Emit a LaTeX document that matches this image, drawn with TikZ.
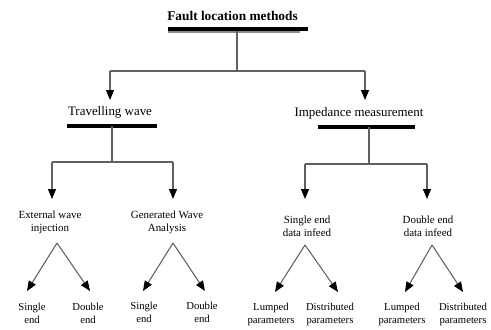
\documentclass[tikz,border=0pt]{standalone}
\usepackage{fontspec}
\setmainfont{Liberation Serif}
\usetikzlibrary{arrows.meta,calc}
\begin{document}
\begin{tikzpicture}[x=0.75pt,y=-0.75pt,
  conn/.style={draw=black!62, line width=0.8pt},
  arr/.style={conn, -{Triangle[length=7.5pt,width=6pt,color=black]}},
  uline/.style={line width=2.5pt, draw=black},
  uline2/.style={line width=1.3pt, draw=black!45},
  lone/.style={font=\fontsize{10}{12}\selectfont\bfseries, inner sep=0pt},
  ltwo/.style={font=\fontsize{9.7}{12}\selectfont, inner sep=0pt},
  lthree/.style={font=\fontsize{8.2}{9.75}\selectfont, align=center, inner sep=0pt},
  leaf/.style={font=\fontsize{8}{9.75}\selectfont, align=center, inner sep=0pt}]
\useasboundingbox (0,0) rectangle (491,329);

% level 1
\node[lone] (title) at (232.5,16) {Fault location methods};
\draw[uline] (168,29) -- (308,29);
\draw[uline2] (168,32) -- (300,32);
\coordinate (tu) at (237,31);
\coordinate (j0) at (237,71);
\coordinate (j0l) at (110,71);
\coordinate (j0r) at (365,71);

% level 2
\node[ltwo] (tw) at (110,112) {Travelling wave};
\node[ltwo] (im) at (359,113) {Impedance measurement};
\draw[uline] (67,126) -- (157,126);
\draw[uline] (318,127) -- (415,127);

\draw[conn] (tu) -- (j0);
\draw[conn] (j0l) -- (j0r);
\draw[arr] (j0l) -- (110,100) coordinate (twin);
\draw[arr] (j0r) -- (365,100) coordinate (imin);

% level 3
\node[lthree] (ew) at (50,222) {External wave\\injection};
\node[lthree] (gw) at (167,222) {Generated Wave\\Analysis};
\node[lthree] (se) at (307,226) {Single end\\data infeed};
\node[lthree] (de) at (428,226) {Double end\\data infeed};

\coordinate (twu) at (112,126);
\coordinate (tj) at (112,162);
\draw[conn] (twu) -- (tj);
\draw[conn] (52,162) coordinate (tjl) -- (173,162) coordinate (tjr);
\draw[arr] (tjl) -- (52,199);
\draw[arr] (tjr) -- (173,199);

\coordinate (imu) at (369,127);
\coordinate (ij) at (369,164);
\draw[conn] (imu) -- (ij);
\draw[conn] (305,164) coordinate (ijl) -- (427,164) coordinate (ijr);
\draw[arr] (ijl) -- (305,199);
\draw[arr] (ijr) -- (427,199);

% leaves
\node[leaf] (ew1) at (32,313) {Single\\end};
\node[leaf] (ew2) at (88,313) {Double\\end};
\node[leaf] (gw1) at (144,312) {Single\\end};
\node[leaf] (gw2) at (202,312) {Double\\end};
\node[leaf] (se1) at (271,314) {Lumped\\parameters};
\node[leaf] (se2) at (330,314) {Distributed\\parameters};
\node[leaf] (de1) at (402,314) {Lumped\\parameters};
\node[leaf] (de2) at (463,314) {Distributed\\parameters};

\coordinate (ewa) at (57,243);
\coordinate (gwa) at (173,243);
\coordinate (sea) at (305,245);
\coordinate (dea) at (432,245);
\draw[arr] (ewa) -- (27,291);
\draw[arr] (ewa) -- (90,291);
\draw[arr] (gwa) -- (143,291);
\draw[arr] (gwa) -- (205,291);
\draw[arr] (sea) -- (275,292);
\draw[arr] (sea) -- (338,292);
\draw[arr] (dea) -- (405,292);
\draw[arr] (dea) -- (463,292);
\end{tikzpicture}
\end{document}
